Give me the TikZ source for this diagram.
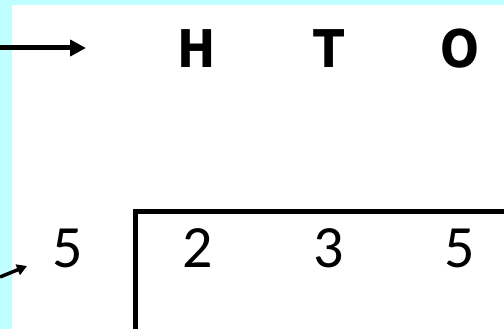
\documentclass[tikz,border=0pt]{standalone}
\usepackage{fontspec}
\newfontfamily\letterfont{DejaVu Sans}[FakeStretch=0.88]
\newfontfamily\digitfont{Carlito}
\usetikzlibrary{arrows.meta}
\definecolor{framecyan}{RGB}{192,255,255}
\tikzset{
  letter/.style={anchor=base, inner sep=0pt, font=\letterfont\bfseries\fontsize{52}{52}\selectfont},
  digit/.style={anchor=base, inner sep=0pt, font=\digitfont\fontsize{60}{60}\selectfont},
  bigarrow/.style={line width=5pt, -{Triangle[length=16pt,width=16pt]}},
  smallarrow/.style={line width=3.5pt, -{Triangle[length=10pt,width=11pt]}},
  bracket/.style={line width=5pt, miter limit=10}
}
\begin{document}
\begin{tikzpicture}[x=1pt,y=-1pt]
\useasboundingbox (0,0) rectangle (504,329);
\fill[white] (0,0) rectangle (504,329);
\fill[framecyan] (0,0) rectangle (12,329);
\fill[framecyan] (0,0) rectangle (504,5);
% letters
\node[letter] (H) at (197,68) {H};
\node[letter] (T) at (329,68) {T};
\node[letter] (O) at (460,68) {O};
% digits
\node[digit] (d5) at (68,267.5) {5};
\node[digit] (d2) at (198,267.5) {2};
\node[digit] (d3) at (329,267.5) {3};
\node[digit] (d5b) at (460,267.5) {5};
% bracket
\coordinate (bl) at (135.5,329);
\coordinate (bc) at (135.5,211.5);
\coordinate (br) at (504,211.5);
\draw[bracket] (bl) -- (bc) -- (br);
% arrows
\coordinate (a1s) at (0,48);
\coordinate (a1e) at (86,48);
\draw[bigarrow] (a1s) -- (a1e);
\coordinate (a2s) at (0,277);
\coordinate (a2e) at (27,266);
\draw[smallarrow] (a2s) -- (a2e);
\end{tikzpicture}
\end{document}
